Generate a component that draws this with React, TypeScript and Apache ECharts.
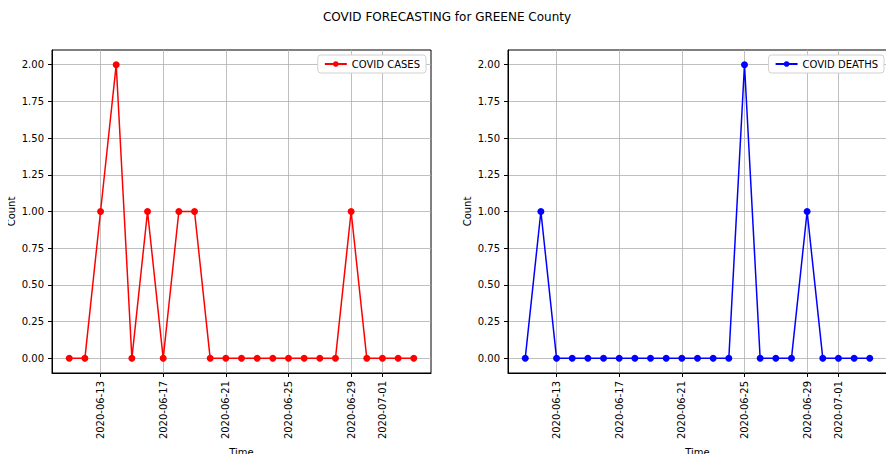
import React, { useEffect, useRef } from 'react';
import * as echarts from 'echarts';

const dates = [
  '2020-06-11', '2020-06-12', '2020-06-13', '2020-06-14', '2020-06-15', '2020-06-16',
  '2020-06-17', '2020-06-18', '2020-06-19', '2020-06-20', '2020-06-21', '2020-06-22',
  '2020-06-23', '2020-06-24', '2020-06-25', '2020-06-26', '2020-06-27', '2020-06-28',
  '2020-06-29', '2020-06-30', '2020-07-01', '2020-07-02', '2020-07-03',
];
const cases = [0, 0, 1, 2, 0, 1, 0, 1, 1, 0, 0, 0, 0, 0, 0, 0, 0, 0, 1, 0, 0, 0, 0];
const deaths = [0, 1, 0, 0, 0, 0, 0, 0, 0, 0, 0, 0, 0, 0, 2, 0, 0, 0, 1, 0, 0, 0, 0];
const tickDates = ['2020-06-13', '2020-06-17', '2020-06-21', '2020-06-25', '2020-06-29', '2020-07-01'];
const yTicks = [0, 0.25, 0.5, 0.75, 1, 1.25, 1.5, 1.75, 2];

const font = 'DejaVu Sans';
const tickIdx = tickDates.map((d) => dates.indexOf(d));

const App: React.FC = () => {
  const chartRef = useRef<HTMLDivElement>(null);

  useEffect(() => {
    if (!chartRef.current) return;
    const chart = echarts.init(chartRef.current, undefined, { renderer: 'svg' });

    const grids = [
      { left: 52, top: 50, width: 379, height: 326, show: true, borderColor: '#000', borderWidth: 1, backgroundColor: 'transparent' },
      { left: 508, top: 50, width: 379, height: 326, show: true, borderColor: '#000', borderWidth: 1, backgroundColor: 'transparent' },
    ];
    const xAxis = grids.map((_, i) => ({
      type: 'value',
      gridIndex: i,
      min: -1.1,
      max: 23.1,
      name: 'Time',
      nameLocation: 'middle',
      nameGap: 66,
      nameTextStyle: { color: '#000', fontFamily: font, fontSize: 10 },
      axisLine: { show: true, onZero: false, lineStyle: { color: '#000' } },
      axisTick: { show: true, customValues: tickIdx, length: 4, lineStyle: { color: '#000' } },
      axisLabel: {
        customValues: tickIdx,
        rotate: 90,
        color: '#000',
        fontFamily: font,
        fontSize: 10,
        formatter: (v: number) => dates[Math.round(v)] ?? '',
      },
      splitLine: { show: true, lineStyle: { color: '#b0b0b0', width: 0.8 } },
    }));
    const yAxis = grids.map((_, i) => ({
      type: 'value',
      gridIndex: i,
      min: -0.1,
      max: 2.1,
      name: 'Count',
      nameLocation: 'middle',
      nameGap: 36,
      nameTextStyle: { color: '#000', fontFamily: font, fontSize: 10 },
      axisLine: { show: true, onZero: false, lineStyle: { color: '#000' } },
      axisTick: { show: true, customValues: yTicks, length: 4, lineStyle: { color: '#000' } },
      axisLabel: {
        customValues: yTicks,
        color: '#000',
        fontFamily: font,
        fontSize: 10,
        formatter: (v: number) => v.toFixed(2),
      },
      splitLine: { show: true, lineStyle: { color: '#b0b0b0', width: 0.8 } },
    }));

    const mk = (name: string, vals: number[], color: string, i: number) => ({
      name,
      type: 'line',
      xAxisIndex: i,
      yAxisIndex: i,
      data: vals.map((v, k) => [k, v]),
      symbol: 'circle',
      symbolSize: 7,
      lineStyle: { color, width: 1.5 },
      itemStyle: { color },
    });

    const legendBase = {
      top: 55,
      orient: 'vertical',
      backgroundColor: '#fff',
      borderColor: '#d0d0d0',
      borderWidth: 1,
      borderRadius: 3,
      padding: [4, 6],
      itemWidth: 22,
      itemHeight: 7,
      textStyle: { color: '#000', fontFamily: font, fontSize: 10 },
    };

    chart.setOption({
      animation: false,
      backgroundColor: '#fff',
      title: {
        text: 'COVID FORECASTING for GREENE County',
        left: 'center',
        top: 6,
        textStyle: { color: '#000', fontFamily: font, fontSize: 12, fontWeight: 'normal' },
      },
      grid: grids,
      xAxis,
      yAxis,
      legend: [
        { ...legendBase, data: ['COVID CASES'], right: 894 - 426 },
        { ...legendBase, data: ['COVID DEATHS'], right: 10 },
      ],
      series: [mk('COVID CASES', cases, '#ff0000', 0), mk('COVID DEATHS', deaths, '#0000ff', 1)],
    } as any);

    return () => chart.dispose();
  }, []);

  return <div ref={chartRef} style={{ width: 894, height: 462, margin: -8 }} />;
};

export default App;
